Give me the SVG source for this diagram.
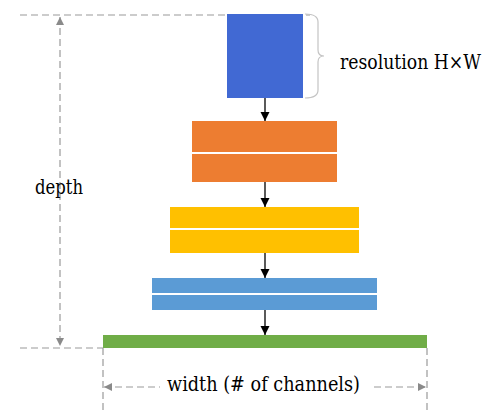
<svg xmlns="http://www.w3.org/2000/svg" width="487" height="414" viewBox="0 0 487 414">
<defs>
<style>
.dash{stroke:#9a9a9a;stroke-width:1.2;stroke-dasharray:7 4;fill:none}
.arr{stroke:#000;stroke-width:1.3;fill:none}
.sep{stroke:#fff;stroke-width:2}
text{font-family:'DejaVu Serif','Liberation Serif',serif;font-size:20px;fill:#000}
</style>
<marker id="ah" viewBox="0 0 10 10" refX="10" refY="5" markerWidth="7" markerHeight="7" orient="auto-start-reverse"><path d="M0,0 L10,5 L0,10 z" fill="#000"/></marker>
<marker id="gh" viewBox="0 0 10 10" refX="10" refY="5" markerWidth="7" markerHeight="7" orient="auto-start-reverse"><path d="M0,0 L10,5 L0,10 z" fill="#8a8a8a"/></marker>
</defs>
<rect width="487" height="414" fill="#fff"/>
<g id="dimensions">
<line class="dash" x1="20" y1="15" x2="310" y2="15"/>
<line class="dash" x1="20" y1="348" x2="103" y2="348"/>
<line class="dash" x1="60" y1="17" x2="60" y2="346" marker-start="url(#gh)" marker-end="url(#gh)"/>
<line class="dash" x1="103" y1="348" x2="103" y2="412"/>
<line class="dash" x1="427" y1="348" x2="427" y2="412"/>
<line class="dash" x1="104" y1="387" x2="160" y2="387" marker-start="url(#gh)"/>
<line class="dash" x1="374" y1="387" x2="426" y2="387" marker-end="url(#gh)"/>
<path d="M305,14 Q318,14 318,22 L318,50 Q318,56 324,56 Q318,56 318,62 L318,90 Q318,98 305,98" fill="none" stroke="#c4c4c4" stroke-width="1.2"/>
</g>
<g id="input">
<rect x="227" y="14" width="76" height="84" fill="#4169D3"/>
</g>
<g id="stage1">
<rect x="192" y="121" width="145" height="61" fill="#ED7D31"/>
<line class="sep" x1="192" y1="153" x2="337" y2="153"/>
</g>
<g id="stage2">
<rect x="170" y="207" width="189" height="46" fill="#FFC000"/>
<line class="sep" x1="170" y1="229" x2="359" y2="229"/>
</g>
<g id="stage3">
<rect x="152" y="278" width="225" height="32" fill="#5B9BD5"/>
<line class="sep" x1="152" y1="294" x2="377" y2="294"/>
</g>
<g id="output">
<rect x="103" y="335" width="324" height="13" fill="#70AD47"/>
</g>
<g id="connectors">
<line class="arr" x1="265" y1="98" x2="265" y2="121" marker-end="url(#ah)"/>
<line class="arr" x1="265" y1="182" x2="265" y2="207" marker-end="url(#ah)"/>
<line class="arr" x1="265" y1="253" x2="265" y2="278" marker-end="url(#ah)"/>
<line class="arr" x1="265" y1="310" x2="265" y2="335" marker-end="url(#ah)"/>
</g>
<g id="labels">
<text x="340" y="69" font-size="18" textLength="141" lengthAdjust="spacingAndGlyphs">resolution H×W</text>
<text x="35" y="194" textLength="48" lengthAdjust="spacingAndGlyphs">depth</text>
<text x="167" y="391" textLength="193" lengthAdjust="spacingAndGlyphs">width (# of channels)</text>
</g>
</svg>
